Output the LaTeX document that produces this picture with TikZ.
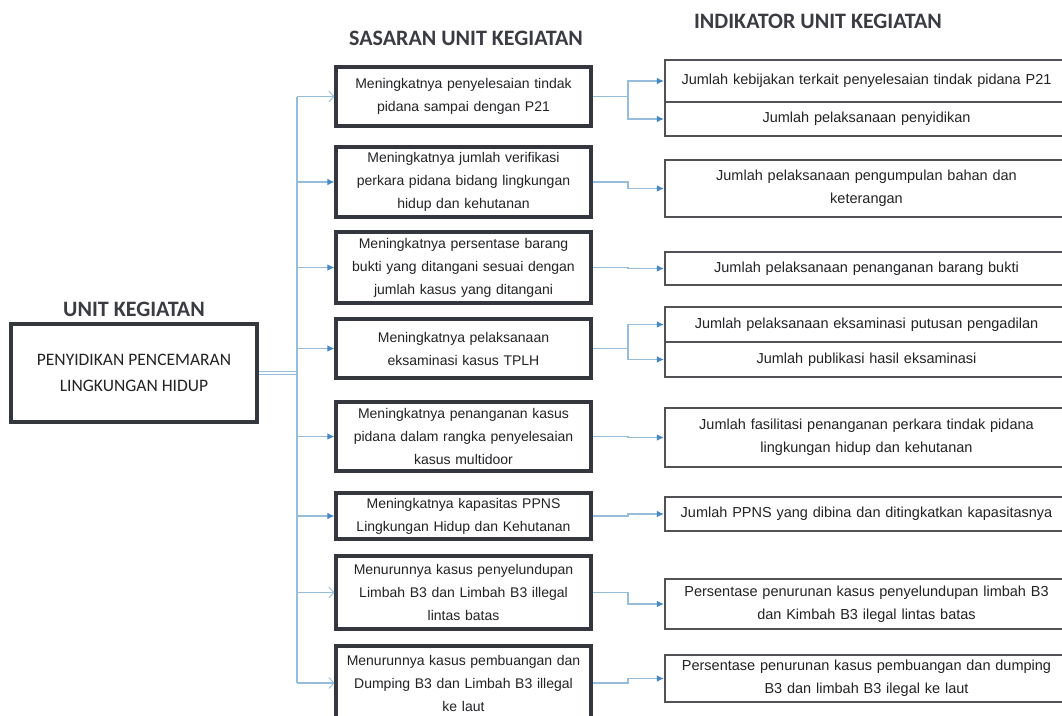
\documentclass[tikz,border=0pt]{standalone}
\usepackage{fontspec}
\setmainfont{Liberation Sans}
\newfontfamily\headfont{Carlito}
\usetikzlibrary{arrows.meta}

\definecolor{connblue}{RGB}{150,190,218}
\definecolor{tipblue}{RGB}{70,135,200}
\definecolor{boxdark}{RGB}{52,56,62}
\definecolor{boxgray}{RGB}{80,82,86}
\definecolor{textdark}{RGB}{35,35,38}
\definecolor{headgray}{RGB}{58,60,66}

\tikzset{
  header/.style={font=\headfont\bfseries\fontsize{22}{24}\selectfont, text=headgray, inner sep=0pt},
  unitbox/.style={draw=boxdark, line width=3.8pt, fill=white, inner sep=0pt,
    minimum width=246pt, minimum height=98pt, align=center, text=textdark,
    font=\headfont\fontsize{17.5}{26}\selectfont},
  midbox/.style={draw=boxdark, line width=3.1pt, fill=white, inner sep=0pt,
    minimum width=255pt, text width=245pt, align=center, text=textdark,
    font=\fontsize{14}{23}\selectfont},
  indbox/.style={draw=boxgray, line width=2.1pt, fill=white, inner sep=0pt,
    minimum width=403pt, text width=395pt, align=center, text=textdark,
    font=\fontsize{14.5}{23}\selectfont},
  conn/.style={draw=connblue, line width=1.1pt},
  filltip/.style={-{Latex[length=7pt,width=6.5pt,color=tipblue]}},
  opentip/.style={-{Straight Barb[length=5pt,width=11pt,line width=0.9pt]}},
}

\begin{document}
\begin{tikzpicture}[x=1pt,y=-1pt]
\clip (0,0) rectangle (1062,715);
\fill[white] (0,0) rectangle (1062,715);

% column headings
\node[header] (hunit) at (134,309) {UNIT KEGIATAN};
\node[header] (hsas) at (466,38) {SASARAN UNIT KEGIATAN};
\node[header] (hind) at (818,21) {INDIKATOR UNIT KEGIATAN};

% unit of activity
\node[unitbox] (unit) at (134,373) {PENYIDIKAN PENCEMARAN\\LINGKUNGAN HIDUP};

% targets
\node[midbox, minimum height=59pt] (m1) at (463.5,96.5)
  {Meningkatnya penyelesaian tindak\\pidana sampai dengan P21};
\node[midbox, minimum height=70pt] (m2) at (463.5,182)
  {Meningkatnya jumlah verifikasi\\perkara pidana bidang lingkungan\\hidup dan kehutanan};
\node[midbox, minimum height=71pt] (m3) at (463.5,267.5)
  {Meningkatnya persentase barang\\bukti yang ditangani sesuai dengan\\jumlah kasus yang ditangani};
\node[midbox, minimum height=59pt] (m4) at (463.5,348.5)
  {Meningkatnya pelaksanaan\\eksaminasi kasus TPLH};
\node[midbox, minimum height=69pt] (m5) at (463.5,436.5)
  {Meningkatnya penanganan kasus\\pidana dalam rangka penyelesaian\\kasus multidoor};
\node[midbox, minimum height=46pt] (m6) at (463.5,516)
  {Meningkatnya kapasitas PPNS\\Lingkungan Hidup dan Kehutanan};
\node[midbox, minimum height=73pt] (m7) at (463.5,592.5)
  {Menurunnya kasus penyelundupan\\Limbah B3 dan Limbah B3 illegal\\lintas batas};
\node[midbox, minimum height=74pt] (m8) at (463.5,683)
  {Menurunnya kasus pembuangan dan\\Dumping B3 dan Limbah B3 illegal\\ke laut};

% indicators
\node[indbox, minimum height=42pt] (r1a) at (866.5,81)
  {Jumlah kebijakan terkait penyelesaian tindak pidana P21};
\node[indbox, minimum height=34pt] (r1b) at (866.5,119)
  {Jumlah pelaksanaan penyidikan};
\node[indbox, minimum height=57pt] (r2) at (866.5,188.5)
  {Jumlah pelaksanaan pengumpulan bahan dan\\keterangan};
\node[indbox, minimum height=33pt] (r3) at (866.5,268.5)
  {Jumlah pelaksanaan penanganan barang bukti};
\node[indbox, minimum height=35pt] (r4a) at (866.5,324.5)
  {Jumlah pelaksanaan eksaminasi putusan pengadilan};
\node[indbox, minimum height=35pt] (r4b) at (866.5,359.5)
  {Jumlah publikasi hasil eksaminasi};
\node[indbox, minimum height=59pt] (r5) at (866.5,437.5)
  {Jumlah fasilitasi penanganan perkara tindak pidana\\lingkungan hidup dan kehutanan};
\node[indbox, minimum height=34pt] (r6) at (866.5,514)
  {Jumlah PPNS yang dibina dan ditingkatkan kapasitasnya};
\node[indbox, minimum height=50pt] (r7) at (866.5,604)
  {Persentase penurunan kasus penyelundupan limbah B3\\dan Kimbah B3 ilegal lintas batas};
\node[indbox, minimum height=47pt] (r8) at (866.5,678.5)
  {Persentase penurunan kasus pembuangan dan dumping\\B3 dan limbah B3 ilegal ke laut};

% trunk and branch columns
\coordinate (tx) at (297,0);
\coordinate (jx) at (628,0);

% unit to trunk (double rule) and the trunk itself
\draw[draw=connblue, line width=1pt, double=white, double distance=2pt]
  (unit.east) -- (tx |- unit.east);
\draw[conn] (tx |- m1.west) -- (tx |- m8.west);

% trunk to targets
\draw[conn, opentip] (tx |- m1.west) -- (m1.west);
\draw[conn, filltip] (tx |- m2.west) -- (m2.west);
\draw[conn, filltip] (tx |- m3.west) -- (m3.west);
\draw[conn, filltip] (tx |- m4.west) -- (m4.west);
\draw[conn, filltip] (tx |- m5.west) -- (m5.west);
\draw[conn, filltip] (tx |- m6.west) -- (m6.west);
\draw[conn, opentip] (tx |- m7.west) -- (m7.west);
\draw[conn, opentip] (tx |- m8.west) -- (m8.west);

% targets to indicators
\draw[conn, filltip] (m1.east) -- (jx |- m1.east) |- (r1a.west);
\draw[conn, filltip] (jx |- m1.east) |- (r1b.west);
\draw[conn, filltip] (m2.east) -- (jx |- m2.east) |- (r2.west);
\draw[conn, filltip] (m3.east) -- (jx |- m3.east) |- (r3.west);
\draw[conn, filltip] (m4.east) -- (jx |- m4.east) |- (r4a.west);
\draw[conn, filltip] (jx |- m4.east) |- (r4b.west);
\draw[conn, filltip] (m5.east) -- (jx |- m5.east) |- (r5.west);
\draw[conn, filltip] (m6.east) -- (jx |- m6.east) |- (r6.west);
\draw[conn, filltip] (m7.east) -- (jx |- m7.east) |- (r7.west);
\draw[conn, filltip] (m8.east) -- (jx |- m8.east) |- (r8.west);
\end{tikzpicture}
\end{document}
